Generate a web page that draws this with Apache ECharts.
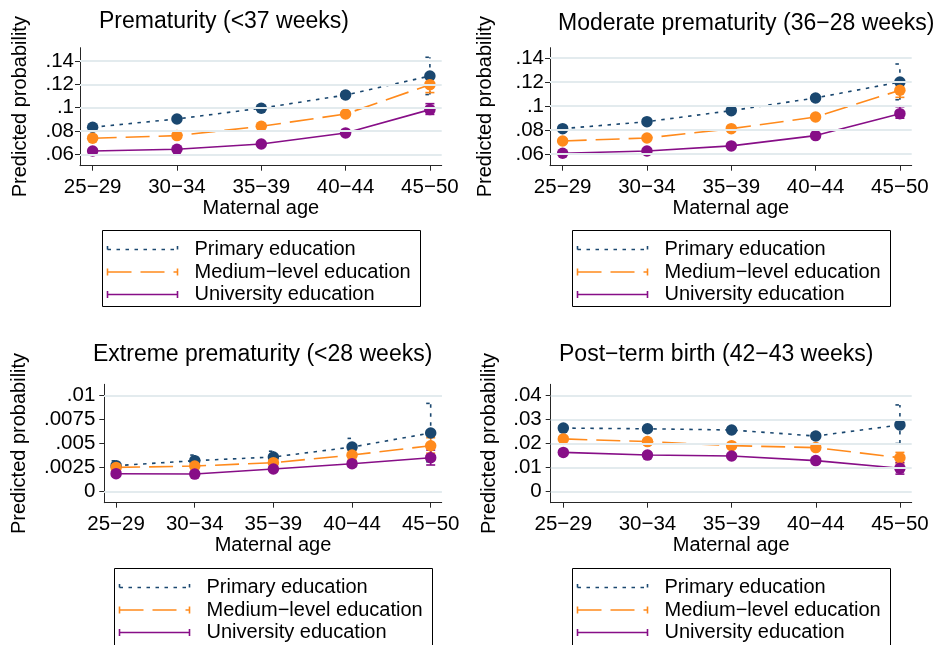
<!DOCTYPE html>
<html>
<head>
<meta charset="utf-8">
<script src="https://cdn.jsdelivr.net/npm/echarts@6/dist/echarts.min.js"></script>
<style>
  html, body { margin: 0; padding: 0; background: #ffffff; }
  #chart { width: 941px; height: 645px; }
</style>
</head>
<body>
<div id="chart"></div>
<script>
// ---- Categories and labels ----
const ageGroups = ['25−29', '30−34', '35−39', '40−44', '45−50'];
const educationLevels = ['Primary education', 'Medium−level education', 'University education'];
const panelTitles = [
  'Prematurity (<37 weeks)',
  'Moderate prematurity (36−28 weeks)',
  'Extreme prematurity (<28 weeks)',
  'Post−term birth (42−43 weeks)'
];
const xAxisTitle = 'Maternal age';
const yAxisTitle = 'Predicted probability';

// ---- Y tick values per panel ----
const yTicksPreterm = [0.06, 0.08, 0.1, 0.12, 0.14];
const yTicksModerate = [0.06, 0.08, 0.1, 0.12, 0.14];
const yTicksExtreme = [0, 0.0025, 0.005, 0.0075, 0.01];
const yTicksPostterm = [0, 0.01, 0.02, 0.03, 0.04];

// ---- Prematurity (<37 weeks): estimates and 95% CI ----
const pretermPrimary   = [0.0832, 0.0903, 0.0995, 0.1108, 0.1271];
const pretermPrimaryLo = [0.0815, 0.0888, 0.0978, 0.1082, 0.1112];
const pretermPrimaryHi = [0.0849, 0.0918, 0.1012, 0.1134, 0.1432];
const pretermMedium    = [0.0738, 0.0760, 0.0840, 0.0945, 0.1197];
const pretermMediumLo  = [0.0728, 0.0751, 0.0830, 0.0930, 0.1129];
const pretermMediumHi  = [0.0748, 0.0769, 0.0850, 0.0960, 0.1265];
const pretermUniv      = [0.0628, 0.0643, 0.0688, 0.0783, 0.0983];
const pretermUnivLo    = [0.0620, 0.0636, 0.0680, 0.0772, 0.0942];
const pretermUnivHi    = [0.0636, 0.0650, 0.0696, 0.0794, 0.1034];

// ---- Moderate prematurity (36−28 weeks) ----
const moderatePrimary   = [0.0811, 0.0869, 0.0961, 0.1067, 0.1200];
const moderatePrimaryLo = [0.0795, 0.0854, 0.0944, 0.1044, 0.1052];
const moderatePrimaryHi = [0.0827, 0.0884, 0.0978, 0.1090, 0.1350];
const moderateMedium    = [0.0708, 0.0733, 0.0811, 0.0908, 0.1131];
const moderateMediumLo  = [0.0699, 0.0725, 0.0801, 0.0894, 0.1072];
const moderateMediumHi  = [0.0717, 0.0741, 0.0821, 0.0922, 0.1190];
const moderateUniv      = [0.0606, 0.0625, 0.0667, 0.0753, 0.0936];
const moderateUnivLo    = [0.0599, 0.0618, 0.0659, 0.0743, 0.0898];
const moderateUnivHi    = [0.0613, 0.0632, 0.0675, 0.0763, 0.0994];

// ---- Extreme prematurity (<28 weeks) ----
const extremePrimary   = [0.00270, 0.00322, 0.00360, 0.00463, 0.00609];
const extremePrimaryLo = [0.00220, 0.00270, 0.00300, 0.00380, 0.00310];
const extremePrimaryHi = [0.00320, 0.00380, 0.00420, 0.00553, 0.00916];
const extremeMedium    = [0.00252, 0.00266, 0.00301, 0.00380, 0.00477];
const extremeMediumLo  = [0.00220, 0.00240, 0.00270, 0.00330, 0.00400];
const extremeMediumHi  = [0.00280, 0.00290, 0.00330, 0.00430, 0.00560];
const extremeUniv      = [0.00187, 0.00183, 0.00235, 0.00290, 0.00353];
const extremeUnivLo    = [0.00160, 0.00160, 0.00210, 0.00260, 0.00277];
const extremeUnivHi    = [0.00210, 0.00210, 0.00260, 0.00320, 0.00432];

// ---- Post-term birth (42−43 weeks) ----
const posttermPrimary   = [0.0264, 0.0261, 0.0256, 0.0231, 0.0277];
const posttermPrimaryLo = [0.0255, 0.0252, 0.0246, 0.0219, 0.0200];
const posttermPrimaryHi = [0.0273, 0.0270, 0.0266, 0.0243, 0.0360];
const posttermMedium    = [0.0219, 0.0208, 0.0191, 0.0183, 0.0141];
const posttermMediumLo  = [0.0213, 0.0202, 0.0185, 0.0175, 0.0119];
const posttermMediumHi  = [0.0225, 0.0214, 0.0197, 0.0191, 0.0163];
const posttermUniv      = [0.0163, 0.0152, 0.0148, 0.0129, 0.0097];
const posttermUnivLo    = [0.0158, 0.0147, 0.0143, 0.0123, 0.0073];
const posttermUnivHi    = [0.0168, 0.0157, 0.0153, 0.0135, 0.0121];

// ---- Styling ----
const FONT = '"Liberation Sans", Arial, Helvetica, sans-serif';
const TEXT_COLOR = '#000000';
const AXIS_COLOR = '#262626';
const GRID_COLOR = '#e3ebee';
const SERIES_COLORS = ['#1a476f', '#ff8a1c', '#870e87'];
const SERIES_DASH = [[3.5, 5.5], [24, 9], null];
const LINE_WIDTH = 1.6;
const MARKER_SIZE = 11.5;
const CAP_HALF = 4.5;

// Per-panel layout (pixels) and data bundles
const panels = [
  {
    title: panelTitles[0], titlePos: [99, 10], ticks: yTicksPreterm, yRange: [0.0502, 0.1514],
    grid: { left: 80, top: 47.7, width: 361.7, height: 118 }, yNameGap: 50, yLabelMargin: 6,
    legendTop: 230, legendHeight: 76,
    est: [pretermPrimary, pretermMedium, pretermUniv],
    lo: [pretermPrimaryLo, pretermMediumLo, pretermUnivLo],
    hi: [pretermPrimaryHi, pretermMediumHi, pretermUnivHi]
  },
  {
    title: panelTitles[1], titlePos: [558, 12], ticks: yTicksModerate, yRange: [0.0502, 0.1486],
    grid: { left: 550, top: 47.7, width: 361.7, height: 118 }, yNameGap: 55, yLabelMargin: 6,
    legendTop: 230, legendHeight: 76,
    est: [moderatePrimary, moderateMedium, moderateUniv],
    lo: [moderatePrimaryLo, moderateMediumLo, moderateUnivLo],
    hi: [moderatePrimaryHi, moderateMediumHi, moderateUnivHi]
  },
  {
    title: panelTitles[2], titlePos: [93, 343], ticks: yTicksExtreme, yRange: [-0.00114, 0.01114],
    grid: { left: 104.3, top: 384.3, width: 337.4, height: 118.4 }, yNameGap: 75, yLabelMargin: 9,
    legendTop: 567.5, legendHeight: 82,
    est: [extremePrimary, extremeMedium, extremeUniv],
    lo: [extremePrimaryLo, extremeMediumLo, extremeUnivLo],
    hi: [extremePrimaryHi, extremeMediumHi, extremeUnivHi]
  },
  {
    title: panelTitles[3], titlePos: [559, 343], ticks: yTicksPostterm, yRange: [-0.00456, 0.04456],
    grid: { left: 550.7, top: 384.3, width: 361, height: 118.4 }, yNameGap: 51, yLabelMargin: 9,
    legendTop: 567.5, legendHeight: 82,
    est: [posttermPrimary, posttermMedium, posttermUniv],
    lo: [posttermPrimaryLo, posttermMediumLo, posttermUnivLo],
    hi: [posttermPrimaryHi, posttermMediumHi, posttermUnivHi]
  }
];

const xTickValues = ageGroups.map((_, k) => k);
const fmtTick = v => (v === 0 ? '0' : String(v).replace(/^0\./, '.'));
const tickTextStyle = { fontFamily: FONT, fontSize: 20.5, color: TEXT_COLOR };
const nameTextStyle = { fontFamily: FONT, fontSize: 20, color: TEXT_COLOR };

const option = {
  animation: false,
  backgroundColor: '#ffffff',
  title: panels.map(p => ({
    text: p.title, left: p.titlePos[0], top: p.titlePos[1], padding: 0,
    textStyle: { fontFamily: FONT, fontSize: 23, fontWeight: 'normal', color: TEXT_COLOR }
  })),
  grid: panels.map(p => Object.assign({ containLabel: false }, p.grid)),
  xAxis: panels.map((p, i) => ({
    type: 'value', gridIndex: i, min: -0.15, max: 4.14,
    splitLine: { show: false },
    axisLine: { show: true, onZero: false, lineStyle: { color: AXIS_COLOR, width: 1 } },
    axisTick: { show: true, customValues: xTickValues, length: 5, lineStyle: { color: AXIS_COLOR, width: 1 } },
    axisLabel: Object.assign({ customValues: xTickValues, margin: 11, formatter: v => ageGroups[Math.round(v)] }, tickTextStyle),
    name: xAxisTitle, nameLocation: 'middle', nameGap: 32, nameTextStyle
  })),
  yAxis: panels.map((p, i) => ({
    type: 'value', gridIndex: i, min: p.yRange[0], max: p.yRange[1],
    splitLine: { show: false },
    axisLine: { show: true, onZero: false, lineStyle: { color: AXIS_COLOR, width: 1 } },
    axisTick: { show: true, customValues: p.ticks, length: 5, lineStyle: { color: AXIS_COLOR, width: 1 } },
    axisLabel: Object.assign({ customValues: p.ticks, margin: p.yLabelMargin, formatter: fmtTick }, tickTextStyle),
    name: yAxisTitle, nameLocation: 'middle', nameGap: p.yNameGap, nameTextStyle
  })),
  series: [],
  graphic: []
};

panels.forEach((p, i) => {
  // horizontal gridlines at the y ticks
  option.series.push({
    type: 'line', xAxisIndex: i, yAxisIndex: i, data: [], z: 1, silent: true,
    markLine: {
      silent: true, symbol: ['none', 'none'], label: { show: false },
      lineStyle: { color: GRID_COLOR, width: 2, type: 'solid' },
      emphasis: { disabled: true },
      data: p.ticks.map(v => ({ yAxis: v }))
    }
  });
  // confidence-interval caps
  educationLevels.forEach((name, s) => {
    const color = SERIES_COLORS[s];
    const dash = SERIES_DASH[s];
    option.series.push({
      type: 'custom', name: name + ' CI', xAxisIndex: i, yAxisIndex: i, z: 2, silent: true,
      data: p.lo[s].map((l, k) => [k, l, p.hi[s][k]]),
      encode: { x: 0, y: [1, 2] },
      renderItem: (params, api) => {
        const x = api.value(0);
        const a = api.coord([x, api.value(1)]);
        const b = api.coord([x, api.value(2)]);
        const style = { stroke: color, lineWidth: LINE_WIDTH, lineDash: dash, fill: null };
        return {
          type: 'group',
          children: [
            { type: 'line', shape: { x1: a[0], y1: a[1], x2: b[0], y2: b[1] }, style },
            { type: 'line', shape: { x1: a[0] - CAP_HALF, y1: a[1], x2: a[0] + CAP_HALF, y2: a[1] }, style },
            { type: 'line', shape: { x1: b[0] - CAP_HALF, y1: b[1], x2: b[0] + CAP_HALF, y2: b[1] }, style }
          ]
        };
      }
    });
  });
  // connected point estimates
  educationLevels.forEach((name, s) => {
    option.series.push({
      type: 'line', name, xAxisIndex: i, yAxisIndex: i, z: 3, silent: true,
      data: p.est[s].map((v, k) => [k, v]),
      symbol: 'circle', symbolSize: MARKER_SIZE, showSymbol: true,
      itemStyle: { color: SERIES_COLORS[s] },
      lineStyle: { color: SERIES_COLORS[s], width: LINE_WIDTH, type: SERIES_DASH[s] || 'solid' }
    });
  });

  // legend box under each panel
  const cx = p.grid.left + p.grid.width / 2;
  const bx = Math.round(cx - 159) + 0.5;
  const by = Math.round(p.legendTop) + 0.5;
  const children = [
    { type: 'rect', shape: { x: bx, y: by, width: 318, height: p.legendHeight },
      style: { fill: '#ffffff', stroke: '#000000', lineWidth: 1 } }
  ];
  const rowOffsets = [19, 41.5, 64];
  educationLevels.forEach((name, s) => {
    const y = by + rowOffsets[s];
    const x1 = bx + 5, x2 = bx + 75;
    const st = { stroke: SERIES_COLORS[s], lineWidth: LINE_WIDTH, lineDash: SERIES_DASH[s], fill: null };
    children.push({ type: 'line', shape: { x1, y1: y, x2, y2: y }, style: st });
    children.push({ type: 'line', shape: { x1, y1: y - 3.5, x2: x1, y2: y + 3.5 }, style: st });
    children.push({ type: 'line', shape: { x1: x2, y1: y - 3.5, x2, y2: y + 3.5 }, style: st });
    children.push({ type: 'text', x: bx + 92, y,
      style: { text: name, fontFamily: FONT, fontSize: 20, fill: TEXT_COLOR, verticalAlign: 'middle', align: 'left' } });
  });
  option.graphic.push({ type: 'group', silent: true, children });
});

const chart = echarts.init(document.getElementById('chart'), null, { renderer: 'canvas' });
chart.setOption(option);
</script>
</body>
</html>
